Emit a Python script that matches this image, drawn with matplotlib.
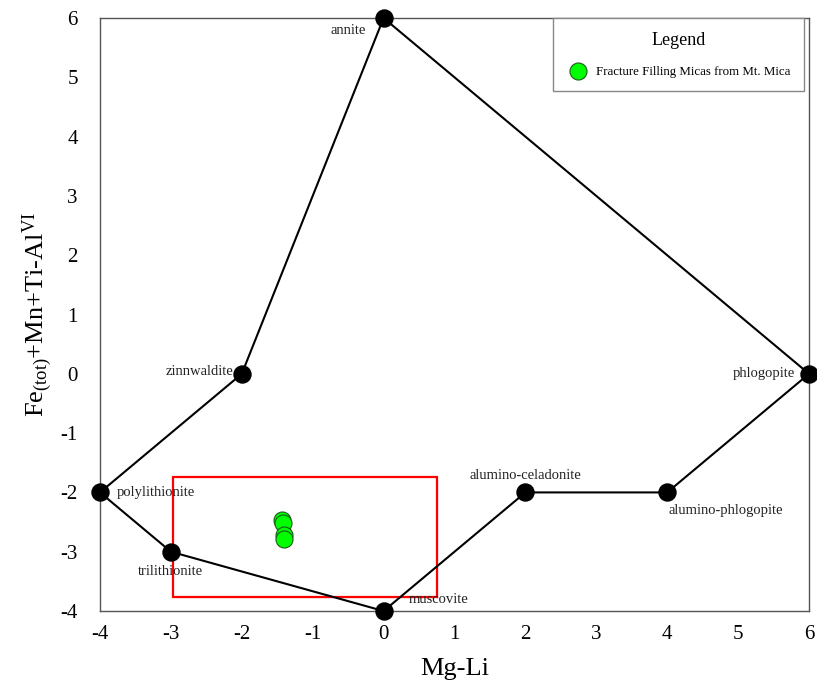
import matplotlib
matplotlib.use('Agg')
import matplotlib.pyplot as plt
from matplotlib.patches import Rectangle

plt.rcParams['font.family'] = ['Liberation Serif', 'DejaVu Serif']
plt.rcParams['mathtext.fontset'] = 'custom'
plt.rcParams['mathtext.rm'] = 'Liberation Serif'
plt.rcParams['mathtext.it'] = 'Liberation Serif:italic'
plt.rcParams['axes.unicode_minus'] = False

# end-member micas, in polygon order
names = ['annite', 'phlogopite', 'alumino-phlogopite', 'alumino-celadonite',
         'muscovite', 'trilithionite', 'polylithionite', 'zinnwaldite']
mg_li = [0, 6, 4, 2, 0, -3, -4, -2]
fe_al = [6, 0, -2, -2, -4, -3, -2, 0]

# label offsets in points and alignment
offsets = {
    'annite': (-13, -9, 'right', 'center'),
    'phlogopite': (-10, 0, 'right', 'center'),
    'alumino-phlogopite': (1, -13, 'left', 'center'),
    'alumino-celadonite': (0, 12, 'center', 'center'),
    'muscovite': (18, 8, 'left', 'center'),
    'trilithionite': (0, -14, 'center', 'center'),
    'polylithionite': (12, 0, 'left', 'center'),
    'zinnwaldite': (-6, 2, 'right', 'center'),
}

# Mt. Mica fracture-filling micas
sample_x = [-1.43, -1.42, -1.41, -1.40]
sample_y = [-2.47, -2.51, -2.72, -2.79]

fig = plt.figure(figsize=(8.17, 6.85), dpi=100)
ax = fig.add_axes([0.1224, 0.108, 0.8678, 0.8657])

ax.plot(mg_li + [mg_li[0]], fe_al + [fe_al[0]], color='black', lw=1.5, zorder=2)
ax.scatter(mg_li, fe_al, s=150, color='black', zorder=3, clip_on=False)
for n, x, y in zip(names, mg_li, fe_al):
    dx, dy, ha, va = offsets[n]
    ax.annotate(n, (x, y), xytext=(dx, dy), textcoords='offset points',
                ha=ha, va=va, fontsize=10.5, color='#222222')

ax.scatter(sample_x, sample_y, s=150, color='#00ff00', edgecolor='#1a5a1a',
           linewidth=0.8, zorder=4, label='Fracture Filling Micas from Mt. Mica')

# highlight box with soft shadow
for i, a in enumerate([0.05, 0.05, 0.04]):
    d = 0.012 * (i + 1)
    ax.add_patch(Rectangle((-2.97 + d, -3.76 - 1.2 * d), 3.72, 2.02, facecolor='black',
                           alpha=a, edgecolor='none', zorder=1))
box = Rectangle((-2.97, -3.76), 3.72, 2.02, facecolor='white', edgecolor='red',
                lw=1.6, zorder=1.5)
ax.add_patch(box)

ax.set_xlim(-4, 6)
ax.set_ylim(-4, 6)
ax.set_xticks(range(-4, 7))
ax.set_yticks(range(-4, 7))
ax.tick_params(axis='x', length=0, labelsize=15, pad=10)
ax.tick_params(axis='y', length=0, labelsize=15, pad=16)
for s in ax.spines.values():
    s.set_color('#555555')
    s.set_linewidth(1.0)

ax.set_xlabel('Mg-Li', fontsize=19, labelpad=10)
ax.set_ylabel(r'Fe$_{\mathrm{(tot)}}$+Mn+Ti-Al$^{\mathrm{VI}}$', fontsize=19, labelpad=4)

leg = ax.legend(loc='upper right', bbox_to_anchor=(0.9935, 0.9995), title='Legend',
                fontsize=9.3, title_fontsize=13, fancybox=False, edgecolor='#888888',
                framealpha=1, borderpad=1.05, handletextpad=0.6, markerscale=1.0,
                borderaxespad=0, handlelength=1.7)
leg.get_frame().set_linewidth(1.0)
leg._legend_box.sep = 12

fig.savefig('out.png', dpi=100)
